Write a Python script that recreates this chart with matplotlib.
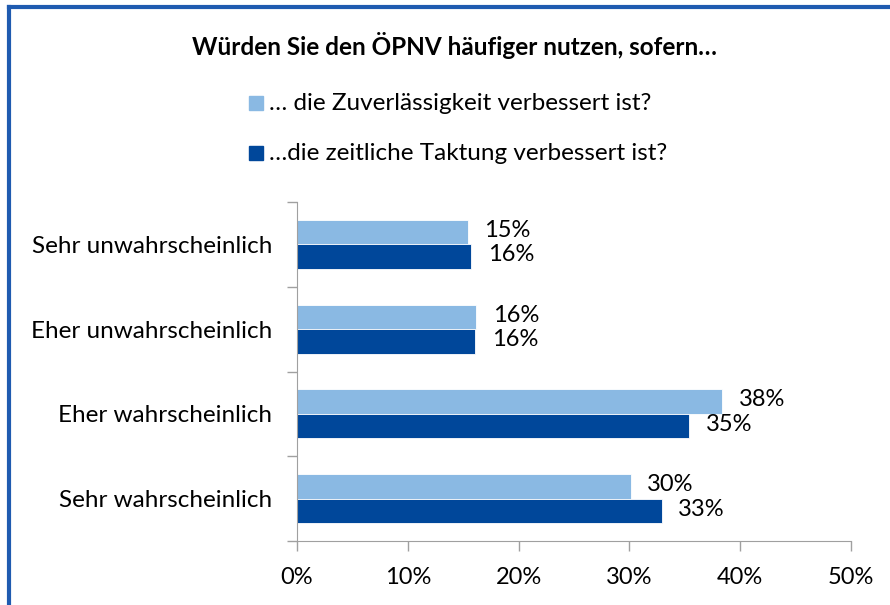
import numpy as np
import matplotlib.pyplot as plt
from matplotlib.lines import Line2D
from matplotlib.patches import Rectangle

# Daten (von oben nach unten)
kategorien = ['Sehr unwahrscheinlich', 'Eher unwahrscheinlich',
              'Eher wahrscheinlich', 'Sehr wahrscheinlich']
zuverlaessigkeit = [15.4, 16.2, 38.4, 30.1]
taktung = [15.7, 16.1, 35.4, 32.9]
serien = ['… die Zuverlässigkeit verbessert ist?',
          '…die zeitliche Taktung verbessert ist?']
titel = 'Würden Sie den ÖPNV häufiger nutzen, sofern…'

hell = '#8ab9e3'
dunkel = '#00479a'
grau = '#a0a0a0'

plt.rcParams['font.family'] = ['Lato', 'DejaVu Sans']

fig = plt.figure(figsize=(8.9, 6.05), dpi=100)
ax = fig.add_axes([0.3337, 0.1058, 0.6225, 0.5603])

n = len(kategorien)
y = np.arange(n)[::-1].astype(float)  # Sehr unwahrscheinlich oben
h = 0.29

ax.barh(y + h / 2, zuverlaessigkeit, height=h, color=hell, edgecolor='white', linewidth=0.6)
ax.barh(y - h / 2, taktung, height=h, color=dunkel, edgecolor='white', linewidth=0.6)

for yi, v in zip(y, zuverlaessigkeit):
    ax.text(v + 1.5, yi + h / 2 + 0.02, f'{round(v):.0f}%', va='center', ha='left', fontsize=17)
for yi, v in zip(y, taktung):
    ax.text(v + 1.5, yi - h / 2 + 0.02, f'{round(v):.0f}%', va='center', ha='left', fontsize=17)

ax.set_xlim(0, 50)
ax.set_ylim(-0.5, n - 0.5)
ax.set_xticks(np.arange(0, 51, 10))
ax.set_xticklabels([f'{t}%' for t in range(0, 51, 10)], fontsize=17)
ax.set_yticks(y)
ax.set_yticklabels(kategorien, fontsize=17.5)
ax.set_yticks(np.arange(-0.5, n, 1.0), minor=True)
ax.tick_params(axis='y', which='major', length=0, pad=18)
ax.tick_params(axis='y', which='minor', length=7, color=grau, width=1)
ax.tick_params(axis='x', length=7, color=grau, width=1, pad=12)
for s in ['top', 'right']:
    ax.spines[s].set_visible(False)
ax.spines['left'].set_color(grau)
ax.spines['bottom'].set_color(grau)

# Titel und Legende
fig.text(0.511, 0.925, titel, ha='center', va='center', fontsize=17.5, fontweight='bold')
for i, (lab, col) in enumerate(zip(serien, [hell, dunkel])):
    yy = 0.829 - i * 0.083
    fig.patches.append(Rectangle((0.280, yy - 0.011), 0.016, 0.024, transform=fig.transFigure,
                                 color=col))
    fig.text(0.302, yy, lab, ha='left', va='center', fontsize=17.5)

# Rahmen
fig.lines.append(Line2D([0.0101, 0.0101], [0.0, 0.9884], transform=fig.transFigure,
                        color='#1f5bb0', linewidth=3))
fig.lines.append(Line2D([0.0101, 1.0], [0.9884, 0.9884], transform=fig.transFigure,
                        color='#1f5bb0', linewidth=3))

fig.savefig('out.png', dpi=100)
